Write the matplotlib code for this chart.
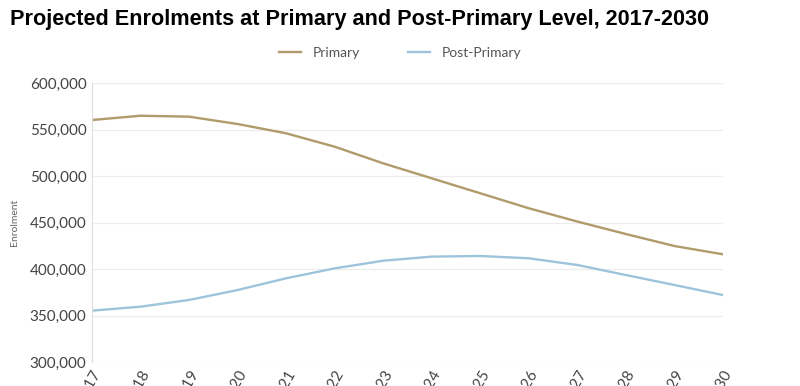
import numpy as np
import matplotlib.pyplot as plt
from matplotlib.ticker import FuncFormatter

years = list(range(2017, 2031))
primary = [560200, 564800, 563800, 555900, 545900, 531500, 513600,
           497500, 481400, 465300, 451000, 437600, 424700, 415800]
post_primary = [355200, 359500, 366700, 377400, 390000, 400700, 408900,
                413300, 414000, 411500, 404300, 393500, 382800, 372000]

primary_color = '#b09b6b'
post_color = '#9ec4dc'

fig = plt.figure(figsize=(8, 3.86), dpi=100)
ax = fig.add_axes([92 / 800, 1 - 362 / 386, (723 - 92) / 800, (362 - 83) / 386])

ax.plot(years, primary, color=primary_color, lw=1.7, label='Primary')
ax.plot(years, post_primary, color=post_color, lw=1.7, label='Post-Primary')

ax.set_xlim(2017, 2030)
ax.set_ylim(300000, 600000)
ax.set_yticks(np.arange(300000, 600001, 50000))
ax.yaxis.set_major_formatter(FuncFormatter(lambda v, p: f'{int(v):,}'))
ax.set_xticks(years)
# year labels run off the bottom edge, as in the original
ax.set_xticklabels([str(y) for y in years], rotation=60, ha='right',
                   rotation_mode='anchor', fontsize=11, color='#444444', family='Lato')

for lbl in ax.get_yticklabels():
    lbl.set_family('Lato')
ax.tick_params(axis='y', labelsize=11, labelcolor='#444444', length=0, pad=4)
ax.tick_params(axis='x', length=0, pad=4)

ax.grid(axis='y', color='#ececec', lw=0.8)
ax.set_axisbelow(True)
for s in ['top', 'right', 'bottom']:
    ax.spines[s].set_visible(False)
ax.spines['left'].set_color('#dddddd')

ax.set_ylabel('Enrolment', fontsize=7.5, color='#666666', family='Lato', labelpad=8)

fig.text(10 / 800, 1 - 20 / 386, 'Projected Enrolments at Primary and Post-Primary Level, 2017-2030',
         fontsize=15.6, fontweight='bold', family='Liberation Sans', va='center', ha='left')

leg = fig.legend(loc='center', bbox_to_anchor=(400 / 800, 1 - 53 / 386), ncol=2, frameon=False,
                 handlelength=1.6, columnspacing=3.5, prop={'family': 'Lato', 'size': 10})
for t in leg.get_texts():
    t.set_color('#555555')

fig.savefig('out.png', dpi=100)
